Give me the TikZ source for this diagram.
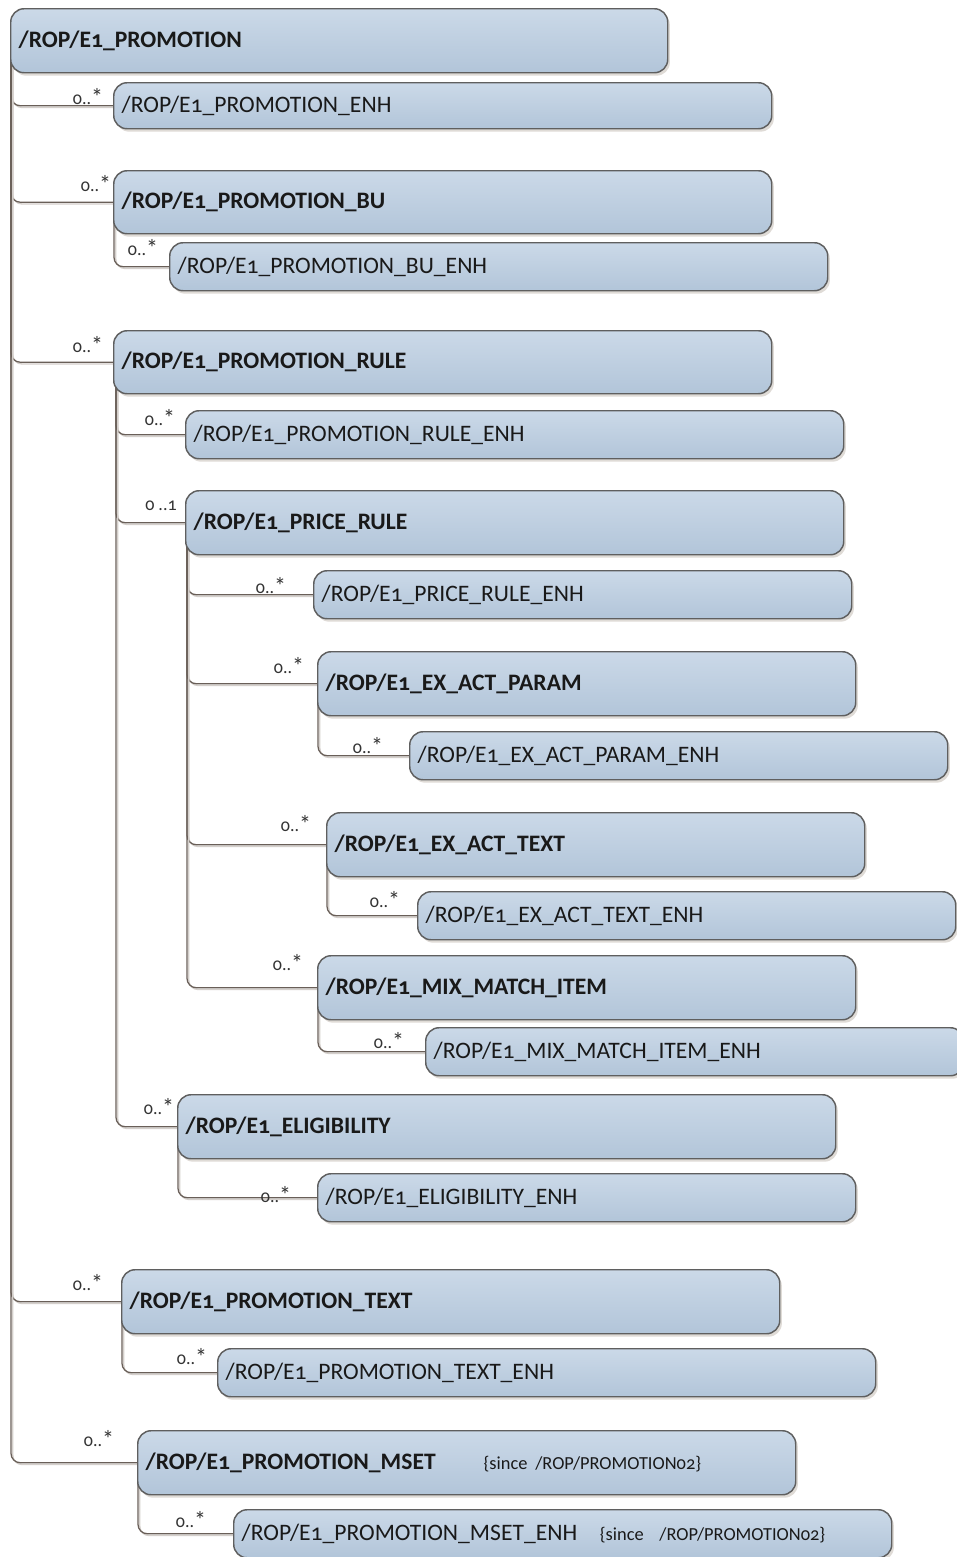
\documentclass[tikz,border=0pt]{standalone}
\usepackage{fontspec}
\setmainfont{Carlito}[Numbers=OldStyle]
\usetikzlibrary{calc,shadows}

\definecolor{boxtop}{RGB}{203,217,232}
\definecolor{boxbot}{RGB}{178,197,217}
\definecolor{boxline}{RGB}{95,95,95}
\definecolor{connline}{RGB}{105,95,88}
\definecolor{connshade}{RGB}{212,207,203}
\definecolor{shadowc}{RGB}{165,152,140}

\pgfdeclarelayer{background}
\pgfsetlayers{background,main}

\tikzset{
  entity/.style={rounded corners=10pt, draw=boxline, line width=1.1pt,
    top color=boxtop, bottom color=boxbot, anchor=north west,
    inner xsep=6pt, inner ysep=0pt, align=left, text=black!90,
    drop shadow={shadow xshift=1.6pt, shadow yshift=-2.2pt, opacity=0.35, fill=shadowc}},
  head/.style={font=\fontsize{17.7}{20}\selectfont\bfseries},
  leaf/.style={font=\fontsize{17.7}{20}\selectfont},
  card/.style={font=\fontsize{13.5}{15}\selectfont, text=black!80, inner sep=0pt},
  conn/.style={draw=connline, line width=0.95pt, rounded corners=7pt},
  connshadow/.style={draw=connshade, line width=1pt, rounded corners=7pt},
}

% name, left, top, right, bottom (pixel grid), style, label
\newcommand\entitybox[7]{%
  \pgfmathsetlengthmacro\entw{(#4-#2)*0.75pt-12pt}%
  \pgfmathsetlengthmacro\enth{(#5-#3)*0.75pt}%
  \node[entity,#6,text width=\entw,minimum height=\enth] (#1) at (#2,#3) {#7};}

\newcommand\sincenote[1]{{\fontsize{13.8}{15}\selectfont\mdseries #1}}
\newcommand\many{{\fontsize{18}{15}\selectfont\raisebox{-0.6pt}{*}}}

\begin{document}
\begin{tikzpicture}[x=0.75pt,y=-0.75pt]
\begin{pgfonlayer}{background}
\fill[white] (0,0) rectangle (957,1557);
\end{pgfonlayer}
\useasboundingbox (0,0) rectangle (957,1557);

\entitybox{b1}{10}{8}{667}{72}{head}{/ROP/E1\_PROMOTION}
\entitybox{b2}{113}{82}{771}{128}{leaf}{/ROP/E1\_PROMOTION\_ENH}
\entitybox{b3}{113}{170}{771}{233}{head}{/ROP/E1\_PROMOTION\_BU}
\entitybox{b4}{169}{242}{827}{290}{leaf}{/ROP/E1\_PROMOTION\_BU\_ENH}
\entitybox{b5}{113}{330}{771}{393}{head}{/ROP/E1\_PROMOTION\_RULE}
\entitybox{b6}{185}{410}{843}{458}{leaf}{/ROP/E1\_PROMOTION\_RULE\_ENH}
\entitybox{b7}{185}{490}{843}{554}{head}{/ROP/E1\_PRICE\_RULE}
\entitybox{b8}{313}{570}{851}{618}{leaf}{/ROP/E1\_PRICE\_RULE\_ENH}
\entitybox{b9}{317}{651}{855}{715}{head}{/ROP/E1\_EX\_ACT\_PARAM}
\entitybox{b10}{409}{731}{947}{779}{leaf}{/ROP/E1\_EX\_ACT\_PARAM\_ENH}
\entitybox{b11}{326}{812}{864}{876}{head}{/ROP/E1\_EX\_ACT\_TEXT}
\entitybox{b12}{417}{891}{955}{939}{leaf}{/ROP/E1\_EX\_ACT\_TEXT\_ENH}
\entitybox{b13}{317}{955}{855}{1019}{head}{/ROP/E1\_MIX\_MATCH\_ITEM}
\entitybox{b14}{425}{1027}{963}{1075}{leaf}{/ROP/E1\_MIX\_MATCH\_ITEM\_ENH}
\entitybox{b15}{177}{1094}{835}{1158}{head}{/ROP/E1\_ELIGIBILITY}
\entitybox{b16}{317}{1173}{855}{1221}{leaf}{/ROP/E1\_ELIGIBILITY\_ENH}
\entitybox{b17}{121}{1269}{779}{1333}{head}{/ROP/E1\_PROMOTION\_TEXT}
\entitybox{b18}{217}{1348}{875}{1396}{leaf}{/ROP/E1\_PROMOTION\_TEXT\_ENH}
\entitybox{b19}{137}{1430}{795}{1494}{head}{/ROP/E1\_PROMOTION\_MSET\hspace{36pt}\sincenote{\{since /ROP/PROMOTION02\}}}
\entitybox{b20}{233}{1509}{891}{1557}{leaf}{/ROP/E1\_PROMOTION\_MSET\_ENH\hspace{17pt}\sincenote{\{since~ /ROP/PROMOTION02\}}}

% tree connectors: parent / child / trunk offset from the parent's left edge;
% each trunk starts inside the parent's rounded corner
\begin{pgfonlayer}{background}
\foreach \p/\c/\o in {b1/b2/1, b1/b3/1, b1/b5/1, b1/b17/1, b1/b19/1,
                      b3/b4/1, b5/b6/3, b5/b7/3, b5/b15/3,
                      b7/b8/2, b7/b9/2, b7/b11/2, b7/b13/2,
                      b9/b10/1, b11/b12/1, b13/b14/1, b15/b16/1,
                      b17/b18/1, b19/b20/1} {
  \draw[connshadow] ($(\p.south west)+(\o+1.8,-14)$) |- ($(\c.west)+(0,1.8)$);
  \draw[conn] ($(\p.south west)+(\o,-14)$) |- (\c.west);
}
\end{pgfonlayer}

% cardinalities
\node[card] (m2)  at (88,97)    {0..\many};
\node[card] (m3)  at (96,184)   {0..\many};
\node[card] (m4)  at (143,248)  {0..\many};
\node[card] (m5)  at (88,345)   {0..\many};
\node[card] (m6)  at (160,418)  {0..\many};
\node[card] (m7)  at (161,506)  {0 ..1};
\node[card] (m8)  at (271,586)  {0..\many};
\node[card] (m9)  at (289,666)  {0..\many};
\node[card] (m10) at (368,746)  {0..\many};
\node[card] (m11) at (296,824)  {0..\many};
\node[card] (m12) at (385,900)  {0..\many};
\node[card] (m13) at (288,963)  {0..\many};
\node[card] (m14) at (389,1041) {0..\many};
\node[card] (m15) at (159,1107) {0..\many};
\node[card] (m16) at (276,1195) {0..\many};
\node[card] (m17) at (88,1283)  {0..\many};
\node[card] (m18) at (192,1357) {0..\many};
\node[card] (m19) at (99,1439)  {0..\many};
\node[card] (m20) at (191,1520) {0..\many};
\end{tikzpicture}
\end{document}
